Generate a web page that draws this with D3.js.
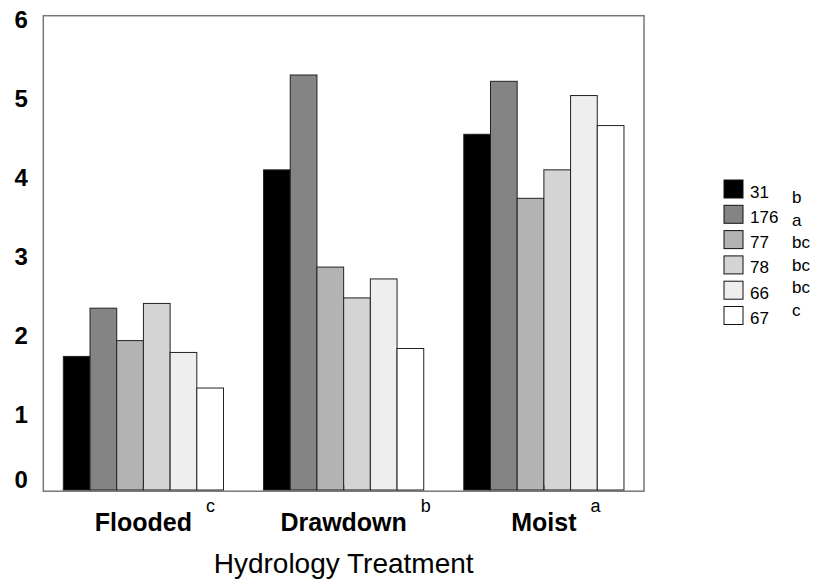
<!DOCTYPE html>
<html>
<head>
<meta charset="utf-8">
<script src="https://cdn.jsdelivr.net/npm/d3@7"></script>
<style>
  html, body { margin: 0; padding: 0; background: #fff; }
  svg { display: block; font-family: "Liberation Sans", Arial, Helvetica, sans-serif; }
</style>
</head>
<body>
<script>
// ---- data ----
const groups = ["Flooded", "Drawdown", "Moist"];
const groupLetters = ["c", "b", "a"];
const seriesNames = ["31", "176", "77", "78", "66", "67"];
const seriesLetters = ["b", "a", "bc", "bc", "bc", "c"];
const flooded  = [1.69, 2.30, 1.89, 2.36, 1.74, 1.29];
const drawdown = [4.05, 5.25, 2.82, 2.43, 2.67, 1.79];
const moist    = [4.50, 5.17, 3.69, 4.05, 4.99, 4.61];
const yTicks = [0, 1, 2, 3, 4, 5, 6];
const xTitle = "Hydrology Treatment";

const colors = ["#000000", "#848484", "#b3b3b3", "#d4d4d4", "#eeeeee", "#ffffff"];
const groupValues = [flooded, drawdown, moist];

// ---- layout ----
const W = 816, H = 581;
const plot = { left: 43.3, right: 644, top: 15.7, bottom: 490 };

const svg = d3.select("body").append("svg").attr("width", W).attr("height", H);

const x0 = d3.scaleBand().domain(groups).range([plot.left, plot.right]);
const x1 = d3.scaleBand().domain(seriesNames)
  .range([x0.bandwidth() * 0.1, x0.bandwidth() * 0.9]);
const y = d3.scaleLinear().domain([0, 6]).range([plot.bottom, plot.top]);
const color = d3.scaleOrdinal().domain(seriesNames).range(colors);

// frame
svg.append("rect")
  .attr("x", plot.left).attr("y", plot.top)
  .attr("width", plot.right - plot.left)
  .attr("height", plot.bottom + 1.2 - plot.top)
  .attr("fill", "none").attr("stroke", "#777").attr("stroke-width", 1.5);

// bars
const data = [];
groups.forEach((g, gi) => {
  seriesNames.forEach((s, si) => data.push({ g, s, v: groupValues[gi][si] }));
});
svg.append("g").selectAll("rect").data(data).join("rect")
  .attr("x", d => x0(d.g) + x1(d.s))
  .attr("y", d => y(d.v))
  .attr("width", x1.bandwidth())
  .attr("height", d => y(0) - y(d.v))
  .attr("fill", d => color(d.s))
  .attr("stroke", "#222").attr("stroke-width", 1);

// y axis
const yAxis = svg.append("g")
  .attr("transform", `translate(${plot.left},0)`)
  .call(d3.axisLeft(y).tickValues(yTicks).tickSize(0).tickPadding(15.5).tickFormat(d3.format("d")));
yAxis.select(".domain").remove();
yAxis.selectAll("text")
  .attr("font-family", "'Liberation Sans', Arial, sans-serif")
  .attr("font-size", 24).attr("font-weight", "bold").attr("fill", "#000")
  .attr("y", d => d === 0 ? -10 : 4);

// x axis
const xAxis = svg.append("g")
  .attr("transform", `translate(0,${plot.bottom})`)
  .call(d3.axisBottom(x0).tickSizeInner(-5).tickSizeOuter(0).tickPadding(23));
xAxis.select(".domain").remove();
xAxis.selectAll(".tick line").attr("stroke", "#333").attr("stroke-width", 1.2);
xAxis.selectAll("text")
  .attr("font-family", "'Liberation Sans', Arial, sans-serif")
  .attr("font-size", 25).attr("font-weight", "bold").attr("fill", "#000");

// superscript group letters
xAxis.selectAll(".tick").each(function (d, i) {
  const t = d3.select(this).select("text");
  const w = t.node().getComputedTextLength();
  d3.select(this).append("text")
    .attr("x", w / 2 + 14)
    .attr("y", 22)
    .attr("font-family", "'Liberation Sans', Arial, sans-serif")
    .attr("font-size", 18).attr("fill", "#000")
    .attr("text-anchor", "start")
    .text(groupLetters[i]);
});

// x title
svg.append("text")
  .attr("x", (plot.left + plot.right) / 2).attr("y", 573)
  .attr("text-anchor", "middle")
  .attr("font-size", 28).attr("fill", "#000")
  .text(xTitle);

// legend
const legend = svg.append("g");
const lg = legend.selectAll("g").data(seriesNames).join("g");
lg.append("rect")
  .attr("x", 724).attr("y", (d, i) => 180 + i * 25.3)
  .attr("width", 19).attr("height", 18)
  .attr("fill", d => color(d)).attr("stroke", "#111").attr("stroke-width", 1);
lg.append("text")
  .attr("x", 750).attr("y", (d, i) => 180 + i * 25.3 + 17.5)
  .attr("font-size", 17).attr("fill", "#000")
  .text(d => d);
lg.append("text")
  .attr("x", 792).attr("y", (d, i) => 203 + i * 22.6)
  .attr("font-size", 17).attr("fill", "#000")
  .text((d, i) => seriesLetters[i]);
</script>
</body>
</html>
